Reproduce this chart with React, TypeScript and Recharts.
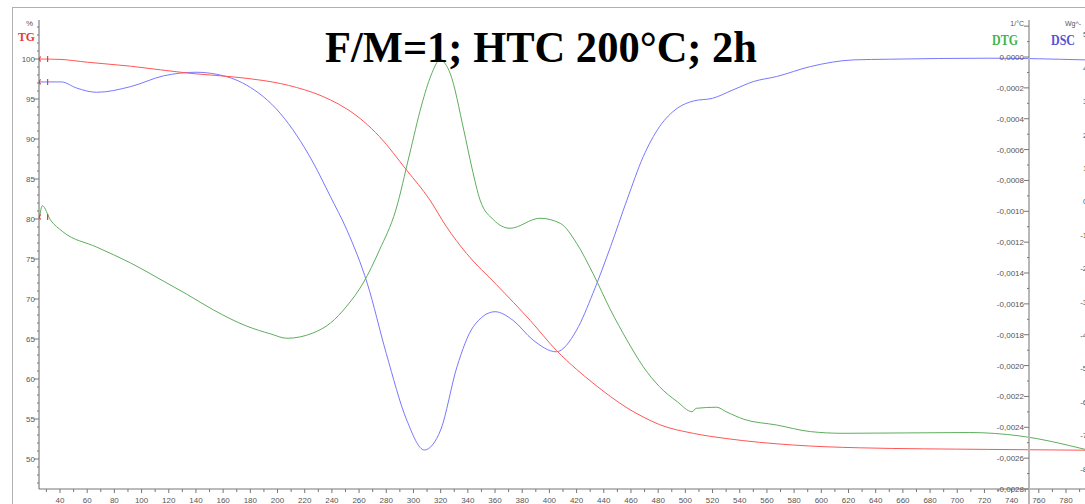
import React from "react";
import { LineChart, Line, XAxis, YAxis } from "recharts";

// TG – residual mass, %
const tgTemp = [25, 40, 60, 92, 136, 165, 190, 202, 214, 226, 239, 251, 263, 275, 295, 312, 324, 339, 361, 386, 405, 420, 432, 445, 457, 469, 481, 506, 530, 579, 628, 722, 794];
const tgMass = [100.0, 99.95, 99.6, 99.1, 98.2, 97.8, 97.3, 96.94, 96.44, 95.81, 94.88, 93.75, 92.25, 90.3, 86.1, 82.4, 79.1, 75.7, 71.8, 67.3, 63.6, 61.2, 59.5, 57.8, 56.4, 55.25, 54.3, 53.2, 52.56, 51.75, 51.4, 51.2, 51.1];

// DSC – heat flow
const dscTemp = [25, 41, 52, 67, 92, 116, 140, 155, 177, 202, 226, 239, 251, 266, 280, 295, 308, 320, 332, 344, 360, 373, 388, 405, 420, 432, 445, 457, 469, 481, 494, 506, 520, 535, 550, 567, 592, 624, 650, 722, 794];
const dscHeat = [3.58, 3.58, 3.4, 3.27, 3.44, 3.76, 3.87, 3.81, 3.49, 2.64, 1.18, 0.14, -0.85, -2.45, -4.55, -6.54, -7.44, -6.84, -4.95, -3.75, -3.3, -3.55, -4.15, -4.5, -3.85, -2.75, -1.35, 0.04, 1.34, 2.24, 2.79, 3.01, 3.09, 3.34, 3.59, 3.74, 4.04, 4.24, 4.26, 4.29, 4.24];

// DTG – mass loss rate, 1/°C
const dtgTemp = [25, 27, 33, 42, 67, 92, 116, 133, 153, 177, 195, 207, 226, 239, 251, 263, 275, 287, 297, 306, 313, 319.5, 327, 337, 343, 349, 359, 371, 393, 408, 420, 432, 445, 457, 469, 481, 494, 505, 508, 523, 530, 543, 567, 592, 616, 709, 746, 794];
const dtgRate = [
  -0.001037, -0.000964, -0.001056, -0.001132, -0.001232, -0.001335, -0.001452, -0.001536, -0.00164, -0.001743,
  -0.001795, -0.001823, -0.001789, -0.001724, -0.001614, -0.001465, -0.001251, -0.000992, -0.000635, -0.000311,
  -0.000117, -0.000019, -0.000106, -0.000473, -0.000719, -0.000927, -0.001056, -0.00111, -0.001045, -0.001078,
  -0.001207, -0.001402, -0.00164, -0.001834, -0.002007, -0.002137, -0.002234, -0.002299, -0.002277, -0.00227,
  -0.002299, -0.002348, -0.002385, -0.002428, -0.002439, -0.002434, -0.002456, -0.002543,
];

// axis ticks
const tempTicks = Array.from({ length: 77 }, (_, i) => 30 + i * 10);
const tgTicks = Array.from({ length: 58 }, (_, i) => 47 + i);
const dtgTicks = Array.from({ length: 31 }, (_, i) => (i - 28) / 10000);
const dscTicks = Array.from({ length: 14 }, (_, i) => i - 8);

const pts = (t: number[], v: number[]) => t.map((x, i) => ({ t: x, v: v[i] }));
const tgData = pts(tgTemp, tgMass);
const dscData = pts(dscTemp, dscHeat);
const dtgData = pts(dtgTemp, dtgRate);

const SANS = "'Liberation Sans', Arial, sans-serif";
const SERIF = "'Liberation Serif', 'Times New Roman', serif";
const RED = "#ff5656";
const BLUE = "#7878ff";
const GREEN = "#5eae5e";

const TempTick = ({ x, y, payload }: any) => {
  const v = payload.value;
  const major = v % 20 === 0;
  return (
    <g>
      <line x1={x} x2={x} y1={y} y2={y + (major ? 4 : 3)} stroke="#777" />
      {major && (
        <text x={x} y={y + 14} textAnchor="middle" fontSize={8} fill="#555" fontFamily={SANS}>
          {v}
        </text>
      )}
    </g>
  );
};

const TgTick = ({ x, y, payload }: any) => {
  const v = payload.value;
  const major = v % 5 === 0;
  return (
    <g>
      <line x1={x - (major ? 5 : 2)} x2={x} y1={y} y2={y} stroke="#777" />
      {major && (
        <text x={x - 4} y={y + 3} textAnchor="end" fontSize={8} fill="#555" fontFamily={SANS}>
          {v}
        </text>
      )}
    </g>
  );
};

const DtgTick = ({ x, y, payload }: any) => {
  const k = Math.round(payload.value * 10000);
  const major = k % 2 === 0;
  return (
    <g>
      <line x1={x - (major ? 5 : 2)} x2={x} y1={y} y2={y} stroke="#777" />
      {major && k <= 0 && (
        <text x={x - 5} y={y + 3} textAnchor="end" fontSize={8} fill="#555" fontFamily={SANS}>
          {(k / 10000).toFixed(4).replace(".", ",")}
        </text>
      )}
    </g>
  );
};

// DSC axis lies just past the right edge, as in the reference only the label starts show
const DscTick = ({ x, y, payload }: any) => (
  <g>
    <line x1={x - 5} x2={x} y1={y} y2={y} stroke="#777" />
    <text x={x - 6} y={y + 3} textAnchor="end" fontSize={8} fill="#555" fontFamily={SANS}>
      {payload.value.toFixed(1).replace(".", ",")}
    </text>
  </g>
);

// small red start markers on each curve
const startMark = (props: any) => {
  const { cx, cy, index } = props;
  if (index !== 0) return <g key={`d${index}`} />;
  return (
    <g key="d0" stroke="#e83c3c" fill="none" strokeWidth={1.2}>
      <path d={`M${cx + 1},${cy - 2.5} Q${cx - 1.5},${cy} ${cx + 1},${cy + 2.5}`} />
      <line x1={cx + 8} x2={cx + 8} y1={cy - 3} y2={cy + 3} />
    </g>
  );
};

export default function App() {
  return (
    <div style={{ position: "absolute", left: 0, top: 0, width: 1085, height: 504, overflow: "hidden", background: "#fff" }}>
      {/* outer frame */}
      <div style={{ position: "absolute", left: 12, top: 7, width: 1100, height: 520, borderLeft: "1px solid #b0b0b0", borderTop: "1px solid #b0b0b0" }} />

      <div style={{ position: "absolute", left: 0, top: 0 }}>
        <LineChart width={1120} height={504} margin={{ top: 20, right: 0, bottom: 0, left: 0 }}>
          <XAxis
            type="number"
            dataKey="t"
            domain={[24.55, 805]}
            ticks={tempTicks}
            interval={0}
            height={15}
            tickSize={0}
            tickMargin={0}
            tick={<TempTick />}
            axisLine={{ stroke: "#777" }}
            tickLine={false}
          />
          <YAxis
            yAxisId="tg"
            orientation="left"
            width={39}
            domain={[46.25, 104.875]}
            ticks={tgTicks}
            interval={0}
            tickSize={0}
            tickMargin={0}
            tick={<TgTick />}
            axisLine={{ stroke: "#666" }}
            tickLine={false}
          />
          <YAxis
            yAxisId="dsc"
            orientation="right"
            width={20}
            domain={[-8.608, 5.434]}
            ticks={dscTicks}
            interval={0}
            tickSize={0}
            tickMargin={0}
            tick={<DscTick />}
            axisLine={{ stroke: "#666" }}
            tickLine={false}
          />
          <YAxis yAxisId="dtg" orientation="right" width={0} hide domain={[-0.0028, 0.00024]} />
          <Line data={dscData} dataKey="v" yAxisId="dsc" type="monotone" stroke={BLUE} strokeWidth={1} dot={startMark} activeDot={false} isAnimationActive={false} />
          <Line data={dtgData} dataKey="v" yAxisId="dtg" type="monotone" stroke={GREEN} strokeWidth={1} dot={startMark} activeDot={false} isAnimationActive={false} />
          <Line data={tgData} dataKey="v" yAxisId="tg" type="monotone" stroke={RED} strokeWidth={1} dot={startMark} activeDot={false} isAnimationActive={false} />
        </LineChart>
      </div>

      {/* DTG axis sits inside the plot */}
      <div style={{ position: "absolute", left: 1028, top: 20, width: 2, height: 484, background: "#b8b8b8" }} />
      <div style={{ position: "absolute", left: 0, top: 0 }}>
        <LineChart width={1085} height={504} margin={{ top: 20, right: 0, bottom: 15, left: 39 }}>
          <XAxis type="number" dataKey="t" domain={[24.55, 748]} allowDataOverflow hide />
          <YAxis
            yAxisId="dtg"
            orientation="right"
            width={56}
            domain={[-0.0028, 0.00024]}
            ticks={dtgTicks}
            interval={0}
            tickSize={0}
            tickMargin={0}
            tick={<DtgTick />}
            axisLine={false}
            tickLine={false}
          />
          <Line data={dtgData} dataKey="v" yAxisId="dtg" stroke="none" dot={false} activeDot={false} isAnimationActive={false} />
        </LineChart>
      </div>

      <svg width={1085} height={504} style={{ position: "absolute", left: 0, top: 0, pointerEvents: "none" }}>
        <text x={325} y={62} fontSize={44} fontWeight="bold" fontFamily={SERIF} fill="#000" textLength={432} lengthAdjust="spacingAndGlyphs">
          F/M=1; HTC 200°C; 2h
        </text>
        <text x={33} y={26} textAnchor="end" fontSize={8} fill="#555" fontFamily={SANS}>%</text>
        <text x={18} y={41} fontSize={13} fontWeight="bold" fill="#e53935" fontFamily={SERIF} textLength={17} lengthAdjust="spacingAndGlyphs">TG</text>
        <text x={1024} y={26} textAnchor="end" fontSize={7} fill="#555" fontFamily={SANS}>1/°C</text>
        <text x={992} y={45} fontSize={14} fontWeight="bold" fill="#3fb34f" fontFamily={SERIF} textLength={26} lengthAdjust="spacingAndGlyphs">DTG</text>
        <text x={1051} y={45} fontSize={14} fontWeight="bold" fill="#5252d6" fontFamily={SERIF} textLength={24} lengthAdjust="spacingAndGlyphs">DSC</text>
        <text x={1065} y={26} fontSize={7} fill="#555" fontFamily={SANS}>Wg^-</text>
      </svg>
    </div>
  );
}
